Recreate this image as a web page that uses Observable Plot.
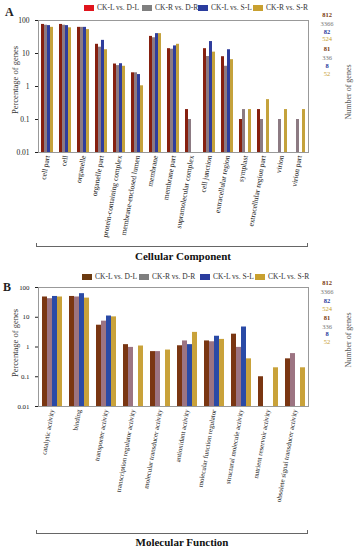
<!DOCTYPE html>
<html><head><meta charset="utf-8">
<script src="https://cdn.jsdelivr.net/npm/d3@7"></script>
<script src="https://cdn.jsdelivr.net/npm/@observablehq/plot@0.6"></script>
<style>
body{margin:0;background:#fff;}
#wrap{position:relative;width:356px;height:550px;font-family:"Liberation Serif","Times New Roman",serif;overflow:hidden;color:#222;}
.abs{position:absolute;white-space:nowrap;line-height:1;}
.sw{display:inline-block;width:10px;height:6px;margin-right:3px;vertical-align:-0.5px;}
</style></head><body><div id="wrap"></div>
<script>
// ---- data ----
const seriesA = ["CK-L vs. D-L", "CK-R vs. D-R", "CK-L vs. S-L", "CK-R vs. S-R"];
const seriesB = ["CK-L vs. D-L", "CK-R vs. D-R", "CK-L vs. S-L", "CK-L vs. S-R"];
const yTicks = [0.01, 0.1, 1, 10, 100];

const ccCats = ["cell part", "cell", "organelle", "organelle part", "protein-containing complex",
  "membrane-enclosed lumen", "membrane", "membrane part", "supramolecular complex", "cell junction",
  "extracellular region", "symplast", "extracellular region part", "virion", "virion part"];
const ccDL = [76, 76, 62, 19, 4.8, 2.6, 33, 14, 0.2, 14, 8, 0.1, 0.2, null, null];
const ccDR = [72, 72, 62, 15.5, 4.3, 2.6, 30, 13.5, 0.1, 8.1, 4.1, 0.2, 0.1, 0.1, 0.1];
const ccSL = [70, 70, 62, 25, 4.9, 2.3, 40, 17, null, 23, 13, null, null, null, null];
const ccSR = [62, 60, 53, 13, 4.1, 1.05, 40, 19, null, 11, 6.5, 0.2, 0.4, 0.2, 0.2];

const mfCats = ["catalytic activity", "binding", "transporter activity", "transcription regulator activity",
  "molecular transducer activity", "antioxidant activity", "molecular function regulator",
  "structural molecule activity", "nutrient reservoir activity", "obsolete signal transducer activity"];
const mfDL = [48, 50, 5.4, 1.2, 0.7, 1.1, 1.6, 2.7, 0.1, 0.4];
const mfDR = [42, 48, 7.4, 0.97, 0.7, 1.6, 1.5, 0.97, null, 0.6];
const mfSL = [50, 62, 11, null, null, 1.2, 2.3, 4.7, null, null];
const mfSR = [48, 44, 10.3, 1.08, 0.79, 3.1, 1.8, 0.4, 0.2, 0.2];

const geneCounts = ["812", "3366", "82", "524", "81", "336", "8", "52"];

// ---- styles ----
const barColorsA = ["#86200f", "#8c7a82", "#2f3d9c", "#c4a23c"];
const barColorsB = ["#7a3612", "#9c7482", "#2a4aa6", "#c9a23a"];
const legendColorsA = ["#e0141c", "#7f7f7f", "#2a3c9e", "#c8a030"];
const legendColorsB = ["#6b3a10", "#7f7f7f", "#2a3c9e", "#c8a030"];
const countColors = ["#7a3a10", "#777", "#2a3c9e", "#c8a030", "#7a3a10", "#777", "#2a3c9e", "#c8a030"];
const countBold = [true, false, true, false, true, false, true, false];

function rowsOf(cats, cols, series) {
  const rows = [];
  cats.forEach((c, i) => cols.forEach((col, j) => {
    if (col[i] != null) rows.push({cat: c, series: series[j], value: col[i]});
  }));
  return rows;
}

function panel(rows, cats, series, colors, o) {
  return Plot.plot({
    width: 356, height: o.height,
    marginTop: o.mt, marginBottom: o.mb, marginLeft: 37, marginRight: 48,
    style: {fontFamily: '"Liberation Serif", serif', fontSize: o.fs, background: "transparent", color: "#222"},
    fx: {domain: cats, padding: 0, tickRotate: -80, tickSize: 0, tickPadding: 3, label: null, axis: "bottom"},
    x: {domain: series, paddingInner: 0, paddingOuter: o.po, axis: null},
    y: {type: "log", domain: [0.01, 100], ticks: yTicks, tickFormat: d => String(d), tickSize: 3, label: null},
    color: {domain: series, range: colors},
    marks: [
      Plot.barY(rows, {fx: "cat", x: "series", y1: d => 0.01, y2: "value", fill: "series", inset: 0}),
      Plot.frame({facet: "super", stroke: "#999"})
    ]
  });
}

const wrap = document.getElementById("wrap");
function add(el, css) { Object.assign(el.style, css); el.classList.add("abs"); wrap.appendChild(el); return el; }
function txt(t, css) { const d = document.createElement("div"); d.textContent = t; return add(d, css); }

const svgA = panel(rowsOf(ccCats, [ccDL, ccDR, ccSL, ccSR], seriesA), ccCats, seriesA, barColorsA,
  {height: 245, mt: 20, mb: 93, po: 0.4, fs: "7.5px"});
add(svgA, {left: "0px", top: "0px"});
const svgB = panel(rowsOf(mfCats, [mfDL, mfDR, mfSL, mfSR], seriesB), mfCats, seriesB, barColorsB,
  {height: 250, mt: 7, mb: 124, po: 0.45, fs: "6.9px"});
add(svgB, {left: "0px", top: "280px"});

// panel letters
txt("A", {left: "5px", top: "6px", fontSize: "12px", fontWeight: "bold"});
txt("B", {left: "3px", top: "281px", fontSize: "12px", fontWeight: "bold"});

// legends
function legend(series, colors, top, lefts) {
  series.forEach((s, i) => {
    const d = document.createElement("div");
    d.innerHTML = `<span class="sw" style="background:${colors[i]}"></span>${s}`;
    add(d, {left: lefts[i] + "px", top: top + "px", fontSize: "7.5px", color: "#333"});
  });
}
legend(seriesA, legendColorsA, 4, [84, 142, 198, 253]);
legend(seriesB, legendColorsB, 273, [82, 139, 200, 255]);

// gene counts
function counts(tops) {
  geneCounts.forEach((g, i) => txt(g, {left: "319px", top: tops[i] + "px", width: "16px", textAlign: "center",
    fontSize: "6.5px", color: countColors[i], fontWeight: countBold[i] ? "bold" : "normal"}));
}
counts([12, 21, 29, 36, 46, 55, 63, 71]);
counts([280, 289, 298, 306, 315, 324, 331, 339]);

// axis titles
function vtext(t, cx, cy, fs, color) {
  return txt(t, {fontSize: fs, color: color, left: cx + "px", top: cy + "px",
    transform: "translate(-50%,-50%) rotate(-90deg)"});
}
vtext("Percentage of genes", 15, 80, "8.5px", "#333");
vtext("Percentage of genes", 15, 343, "8.5px", "#333");
vtext("Number of genes", 349, 92, "8px", "#555");
vtext("Number of genes", 349, 340, "8px", "#555");

// brackets & group titles
function bracket(top) {
  const d = document.createElement("div");
  add(d, {left: "36px", top: top + "px", width: "270px", height: "3px",
    borderLeft: "1.5px solid #666", borderRight: "1.5px solid #666", borderBottom: "1.5px solid #666"});
}
bracket(243);
bracket(530);
txt("Cellular Component", {left: "183px", top: "251px", transform: "translateX(-50%)", fontSize: "11px", fontWeight: "bold", color: "#111"});
txt("Molecular Function", {left: "182px", top: "537px", transform: "translateX(-50%)", fontSize: "11px", fontWeight: "bold", color: "#111"});
</script></body></html>
